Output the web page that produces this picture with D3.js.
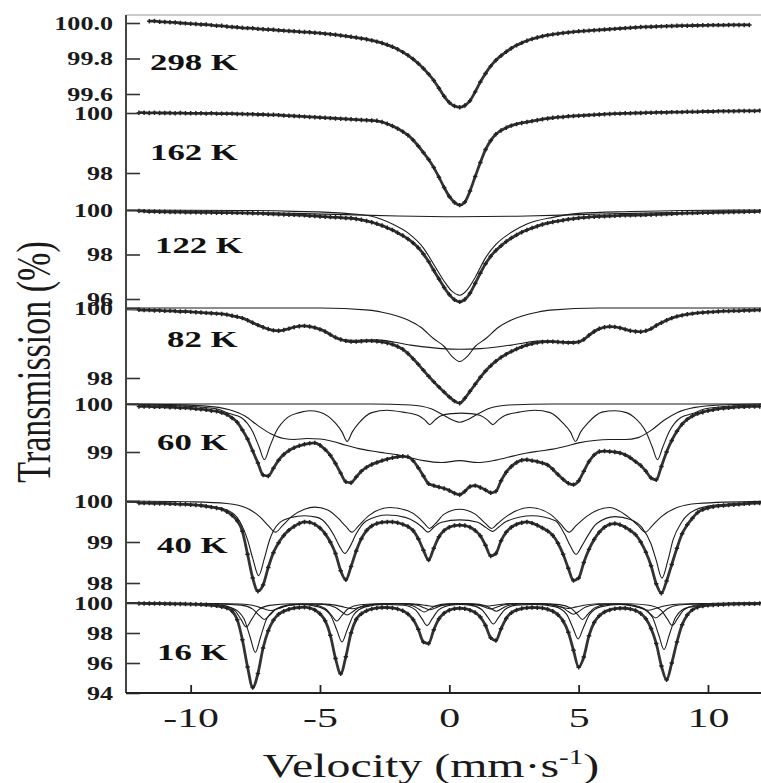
<!DOCTYPE html>
<html>
<head>
<meta charset="utf-8">
<script src="https://cdn.jsdelivr.net/npm/d3@7"></script>
<style>
  html, body { margin: 0; padding: 0; background: #fff; }
  svg { display: block; }
</style>
</head>
<body>
<svg id="chart" width="761" height="783"></svg>
<script>
// Mössbauer spectra of the sample recorded at seven temperatures.
// Velocity channels (mm/s), one every 0.2 mm/s from -12 to +12.
const velocity = d3.range(121).map(i => Math.round((-12 + i * 0.2) * 10) / 10);

// Measured transmission (%) per channel, one array per temperature.
const t298 = [
  null, null, 100.010, 100.011, 100.007, 100.006, 100.004, 100.003, 100.000, 99.998,
  99.996, 99.994, 99.992, 99.991, 99.988, 99.985, 99.984, 99.980, 99.978, 99.976,
  99.973, 99.971, 99.970, 99.967, 99.965, 99.963, 99.962, 99.959, 99.957, 99.955,
  99.953, 99.951, 99.949, 99.948, 99.945, 99.943, 99.940, 99.937, 99.934, 99.930,
  99.926, 99.922, 99.918, 99.913, 99.908, 99.902, 99.895, 99.887, 99.877, 99.866,
  99.852, 99.836, 99.818, 99.797, 99.772, 99.744, 99.712, 99.676, 99.632, 99.587,
  99.552, 99.532, 99.525, 99.535, 99.562, 99.612, 99.668, 99.716, 99.757, 99.790,
  99.816, 99.838, 99.858, 99.874, 99.888, 99.900, 99.910, 99.918, 99.925, 99.931,
  99.936, 99.940, 99.944, 99.947, 99.950, 99.953, 99.955, 99.957, 99.959, 99.961,
  99.963, 99.965, 99.967, 99.969, 99.971, 99.973, 99.975, 99.977, 99.978, 99.979,
  99.980, 99.981, 99.982, 99.983, 99.984, 99.985, 99.985, 99.986, 99.986, 99.987,
  99.987, 99.988, 99.988, 99.988, 99.989, 99.989, 99.989, 99.989, 99.989, null,
  null
];
const t162 = [
  100.01, 100.01, 100.00, 100.01, 100.00, 100.00, 100.00, 99.99, 100.00, 99.99,
  99.99, 99.99, 99.99, 99.98, 99.99, 99.98, 99.98, 99.98, 99.98, 99.97,
  99.97, 99.96, 99.96, 99.95, 99.95, 99.94, 99.94, 99.93, 99.92, 99.91,
  99.90, 99.89, 99.88, 99.87, 99.86, 99.85, 99.84, 99.83, 99.82, 99.81,
  99.80, 99.79, 99.78, 99.77, 99.76, 99.75, 99.74, 99.70, 99.64, 99.57,
  99.48, 99.38, 99.26, 99.10, 98.90, 98.68, 98.45, 98.18, 97.86, 97.52,
  97.22, 97.02, 96.93, 97.03, 97.40, 97.88, 98.35, 98.78, 99.08, 99.29,
  99.42, 99.51, 99.58, 99.63, 99.67, 99.70, 99.73, 99.76, 99.79, 99.82,
  99.84, 99.86, 99.87, 99.89, 99.90, 99.91, 99.92, 99.93, 99.94, 99.95,
  99.96, 99.97, 99.98, 99.98, 99.99, 99.99, 100.00, 100.00, 100.01, 100.01,
  100.02, 100.02, 100.02, 100.03, 100.03, 100.03, 100.04, 100.04, 100.04, 100.05,
  100.05, 100.05, 100.06, 100.06, 100.06, 100.06, 100.07, 100.07, 100.07, 100.07,
  100.08
];
const t122 = [
  99.96, 99.95, 99.93, 99.93, 99.92, 99.92, 99.91, 99.91, 99.91, 99.90,
  99.90, 99.90, 99.89, 99.89, 99.89, 99.88, 99.88, 99.88, 99.88, 99.87,
  99.87, 99.86, 99.85, 99.85, 99.84, 99.83, 99.82, 99.81, 99.80, 99.79,
  99.78, 99.77, 99.76, 99.74, 99.73, 99.71, 99.70, 99.68, 99.67, 99.66,
  99.64, 99.63, 99.60, 99.56, 99.51, 99.45, 99.38, 99.30, 99.20, 99.10,
  98.98, 98.85, 98.70, 98.52, 98.30, 98.02, 97.68, 97.28, 96.90, 96.52,
  96.20, 95.97, 95.87, 95.98, 96.26, 96.70, 97.16, 97.58, 97.92, 98.18,
  98.39, 98.58, 98.74, 98.88, 99.00, 99.10, 99.19, 99.27, 99.35, 99.41,
  99.46, 99.50, 99.54, 99.58, 99.61, 99.64, 99.66, 99.68, 99.70, 99.71,
  99.72, 99.73, 99.74, 99.75, 99.76, 99.76, 99.77, 99.77, 99.78, 99.79,
  99.80, 99.81, 99.82, 99.83, 99.84, 99.85, 99.86, 99.86, 99.87, 99.88,
  99.88, 99.89, 99.90, 99.90, 99.91, 99.91, 99.92, 99.92, 99.93, 99.93,
  99.94
];
const t82 = [
  99.95, 99.94, 99.94, 99.93, 99.93, 99.92, 99.92, 99.91, 99.90, 99.90,
  99.89, 99.88, 99.87, 99.86, 99.85, 99.84, 99.83, 99.81, 99.78, 99.75,
  99.71, 99.65, 99.58, 99.51, 99.45, 99.40, 99.36, 99.35, 99.37, 99.41,
  99.45, 99.48, 99.49, 99.47, 99.44, 99.39, 99.33, 99.24, 99.16, 99.10,
  99.06, 99.04, 99.04, 99.05, 99.06, 99.06, 99.05, 99.03, 99.00, 98.96,
  98.90, 98.82, 98.70, 98.55, 98.39, 98.22, 98.05, 97.89, 97.74, 97.60,
  97.46, 97.34, 97.28, 97.42, 97.62, 97.82, 98.02, 98.20, 98.35, 98.48,
  98.59, 98.68, 98.76, 98.83, 98.89, 98.94, 98.98, 99.01, 99.03, 99.04,
  99.04, 99.03, 99.02, 99.01, 99.01, 99.03, 99.10, 99.22, 99.33, 99.41,
  99.45, 99.47, 99.46, 99.43, 99.39, 99.35, 99.33, 99.32, 99.35, 99.41,
  99.50, 99.58, 99.65, 99.71, 99.76, 99.79, 99.82, 99.84, 99.86, 99.87,
  99.88, 99.89, 99.90, 99.91, 99.91, 99.92, 99.92, 99.93, 99.93, 99.94,
  99.94
];
const t60 = [
  99.95, 99.95, 99.95, 99.94, 99.94, 99.94, 99.93, 99.93, 99.92, 99.92,
  99.91, 99.90, 99.89, 99.88, 99.86, 99.85, 99.82, 99.78, 99.71, 99.62,
  99.46, 99.27, 99.02, 98.77, 98.52, 98.50, 98.66, 98.83, 98.95, 99.03,
  99.09, 99.13, 99.16, 99.18, 99.19, 99.14, 99.05, 98.93, 98.76, 98.56,
  98.38, 98.36, 98.48, 98.60, 98.68, 98.74, 98.78, 98.82, 98.85, 98.88,
  98.90, 98.91, 98.90, 98.82, 98.67, 98.50, 98.34, 98.30, 98.27, 98.24,
  98.20, 98.14, 98.11, 98.18, 98.28, 98.30, 98.26, 98.21, 98.15, 98.18,
  98.40, 98.58, 98.70, 98.78, 98.83, 98.84, 98.82, 98.80, 98.77, 98.73,
  98.64, 98.53, 98.43, 98.35, 98.32, 98.40, 98.60, 98.80, 98.94, 99.01,
  99.02, 99.01, 99.00, 98.98, 98.94, 98.88, 98.80, 98.72, 98.60, 98.46,
  98.42, 98.70, 99.00, 99.24, 99.43, 99.58, 99.68, 99.75, 99.80, 99.83,
  99.86, 99.88, 99.90, 99.91, 99.92, 99.93, 99.94, 99.94, 99.95, 99.95,
  99.95
];
const t40 = [
  99.95, 99.95, 99.95, 99.94, 99.94, 99.94, 99.93, 99.93, 99.92, 99.92,
  99.91, 99.90, 99.89, 99.87, 99.85, 99.83, 99.80, 99.74, 99.65, 99.52,
  99.26, 98.70, 98.12, 97.80, 97.95, 98.38, 98.74, 98.98, 99.16, 99.29,
  99.38, 99.45, 99.49, 99.48, 99.43, 99.34, 99.20, 99.00, 98.72, 98.30,
  98.08, 98.40, 98.78, 99.08, 99.28, 99.39, 99.45, 99.48, 99.49, 99.49,
  99.47, 99.43, 99.38, 99.28, 99.08, 98.80, 98.56, 98.85, 99.13, 99.28,
  99.36, 99.40, 99.41, 99.40, 99.36, 99.28, 99.15, 98.92, 98.66, 98.72,
  99.03, 99.24, 99.36, 99.43, 99.47, 99.49, 99.46, 99.41, 99.34, 99.27,
  99.16, 98.97, 98.70, 98.36, 98.06, 98.12, 98.50, 98.82, 99.06, 99.24,
  99.36, 99.43, 99.45, 99.42, 99.36, 99.28, 99.18, 99.00, 98.75, 98.42,
  97.98, 97.75, 98.05, 98.45, 98.85, 99.20, 99.42, 99.58, 99.72, 99.79,
  99.83, 99.86, 99.88, 99.89, 99.90, 99.91, 99.92, 99.93, 99.94, 99.95,
  99.95
];
const t16 = [
  99.97, 99.97, 99.96, 99.96, 99.96, 99.95, 99.95, 99.94, 99.94, 99.93,
  99.92, 99.91, 99.90, 99.88, 99.85, 99.81, 99.75, 99.66, 99.47, 98.89,
  97.55, 95.73, 94.36, 95.30, 97.00, 98.15, 98.85, 99.25, 99.45, 99.58,
  99.66, 99.70, 99.72, 99.66, 99.54, 99.28, 98.82, 97.85, 96.30, 95.29,
  96.42, 98.00, 98.90, 99.28, 99.48, 99.60, 99.66, 99.70, 99.70, 99.67,
  99.60, 99.48, 99.27, 98.90, 98.25, 97.40, 97.30, 98.22, 98.95, 99.32,
  99.52, 99.62, 99.65, 99.62, 99.52, 99.36, 99.06, 98.50, 97.68, 97.50,
  98.28, 98.97, 99.35, 99.53, 99.63, 99.68, 99.70, 99.69, 99.66, 99.58,
  99.45, 99.22, 98.80, 98.05, 96.85, 95.72, 96.40, 97.82, 98.70, 99.15,
  99.40, 99.54, 99.62, 99.65, 99.65, 99.60, 99.50, 99.30, 98.95, 98.30,
  97.30, 95.80, 94.88, 96.00, 97.40, 98.55, 99.20, 99.55, 99.72, 99.80,
  99.85, 99.87, 99.89, 99.90, 99.92, 99.93, 99.94, 99.94, 99.95, 99.95,
  99.96
];

// Fitted sub-spectra, as [velocity, transmission] pairs.
const fit122Broad = [[-12.5, 99.97], [-10, 99.93], [-8, 99.89], [-6, 99.85], [-4, 99.79], [-2, 99.73],
  [0.4, 99.70], [3, 99.73], [5, 99.79], [7, 99.85], [9, 99.89], [12.05, 99.93]];
const fit122Main = [[-12.5, 100], [-8, 99.98], [-6, 99.94], [-4, 99.85], [-3, 99.72], [-2.2, 99.37],
  [-1.6, 98.97], [-1.0, 98.29], [-0.6, 97.55], [-0.2, 96.8], [0.1, 96.35], [0.4, 96.17], [0.7, 96.42],
  [1.0, 96.97], [1.4, 97.85], [1.8, 98.45], [2.4, 99.0], [3.0, 99.37], [4.0, 99.67], [5.0, 99.85],
  [7, 99.93], [9, 99.98], [12.05, 100]];

const fit82Narrow = [[-12.5, 100], [-5, 100], [-3.1, 99.94], [-2.6, 99.88], [-1.6, 99.66], [-1.1, 99.45],
  [-0.6, 99.12], [-0.2, 98.9], [0.1, 98.62], [0.4, 98.47], [0.7, 98.62], [1.0, 98.9], [1.4, 99.12],
  [1.9, 99.45], [2.4, 99.66], [3.4, 99.88], [3.9, 99.94], [5.8, 100], [12.05, 100]];
const fit82Broad = [[-12.5, 99.95], [-10, 99.89], [-8.6, 99.81], [-8, 99.71], [-7.4, 99.51], [-6.8, 99.36],
  [-6.6, 99.35], [-6.2, 99.41], [-5.6, 99.49], [-5.0, 99.39], [-4.4, 99.16], [-3.8, 99.08], [-2.8, 99.09],
  [-1.5, 98.94], [-0.3, 98.84], [0.4, 98.82], [1.2, 98.84], [2.4, 98.94], [3.6, 99.06], [4.6, 99.04],
  [5.0, 99.05], [5.4, 99.22], [6.2, 99.47], [7.4, 99.32], [8.0, 99.5], [8.6, 99.71], [9.4, 99.84],
  [10.6, 99.91], [12.05, 99.94]];

const fit60Sextet = [[-12.5, 99.99], [-11, 99.97], [-10, 99.95], [-9.0, 99.9], [-8.5, 99.8], [-8.05, 99.72],
  [-7.6, 99.42], [-7.35, 99.1], [-7.15, 98.84], [-6.95, 99.1], [-6.7, 99.42], [-6.25, 99.72], [-5.8, 99.82],
  [-5.4, 99.86], [-5.0, 99.83], [-4.4, 99.6], [-4.15, 99.42], [-3.95, 99.22], [-3.75, 99.42], [-3.5, 99.6],
  [-3.0, 99.82], [-2.4, 99.87], [-1.8, 99.83], [-1.2, 99.76], [-0.95, 99.67], [-0.76, 99.57], [-0.55, 99.67],
  [-0.3, 99.76], [0.1, 99.8], [0.46, 99.81], [0.82, 99.8], [1.2, 99.76], [1.47, 99.67], [1.68, 99.57],
  [1.9, 99.67], [2.15, 99.76], [2.7, 99.83], [3.3, 99.87], [3.9, 99.82], [4.4, 99.6], [4.68, 99.42],
  [4.88, 99.22], [5.08, 99.42], [5.35, 99.6], [5.9, 99.83], [6.4, 99.86], [6.85, 99.82], [7.15, 99.72],
  [7.6, 99.42], [7.85, 99.1], [8.05, 98.84], [8.25, 99.1], [8.5, 99.42], [8.95, 99.72], [9.4, 99.8],
  [9.9, 99.9], [11, 99.96], [12.05, 99.98]];
const fit60Broad = [[-12.5, 100], [-11, 99.99], [-9.5, 99.96], [-8.5, 99.88], [-7.9, 99.75], [-7.4, 99.55],
  [-6.9, 99.38], [-6.4, 99.28], [-6.0, 99.26], [-5.5, 99.28], [-5.0, 99.27], [-4.5, 99.22], [-4.0, 99.14],
  [-3.5, 99.07], [-3.0, 99.02], [-2.5, 98.98], [-2.0, 98.94], [-1.5, 98.88], [-1.0, 98.82], [-0.3, 98.78],
  [0.4, 98.82], [1.1, 98.78], [1.8, 98.83], [2.5, 98.92], [3.0, 98.98], [3.5, 99.02], [4.0, 99.06],
  [4.5, 99.12], [5.0, 99.19], [5.6, 99.24], [6.2, 99.26], [6.8, 99.26], [7.3, 99.3], [7.8, 99.45],
  [8.3, 99.66], [8.8, 99.82], [9.5, 99.93], [10.5, 99.98], [12.05, 100]];
const fit60Singlet = [[-12.5, 100], [-3, 100], [-1.5, 99.98], [-0.7, 99.9], [-0.2, 99.76], [0.15, 99.66],
  [0.4, 99.62], [0.65, 99.66], [1.0, 99.76], [1.5, 99.9], [2.3, 99.98], [4, 100], [12.05, 100]];

const fit40Sharp = [[-12.5, 99.97], [-10.5, 99.94], [-9.3, 99.88], [-8.6, 99.78], [-8.1, 99.5], [-7.8, 99.05],
  [-7.6, 98.6], [-7.37, 98.18], [-7.15, 98.6], [-6.95, 99.05], [-6.6, 99.45], [-6.1, 99.6], [-5.6, 99.64],
  [-5.1, 99.6], [-4.7, 99.4], [-4.45, 99.15], [-4.25, 98.9], [-4.04, 98.72], [-3.83, 98.9], [-3.6, 99.2],
  [-3.2, 99.52], [-2.4, 99.66], [-1.7, 99.6], [-1.3, 99.48], [-1.05, 99.36], [-0.82, 99.24], [-0.6, 99.36],
  [-0.3, 99.48], [0.4, 99.54], [1.1, 99.48], [1.4, 99.36], [1.68, 99.26], [1.9, 99.36], [2.2, 99.5],
  [3.2, 99.64], [4.1, 99.52], [4.45, 99.2], [4.68, 98.9], [4.9, 98.7], [5.12, 98.9], [5.35, 99.15],
  [5.7, 99.45], [6.4, 99.62], [7.0, 99.55], [7.45, 99.35], [7.8, 98.95], [8.0, 98.55], [8.22, 98.12],
  [8.45, 98.55], [8.65, 99.05], [9.0, 99.5], [9.5, 99.78], [10.3, 99.9], [12.05, 99.96]];
const fit40Broad = [[-12.5, 100], [-10, 99.98], [-8.6, 99.94], [-7.8, 99.82], [-7.3, 99.6], [-7.0, 99.4],
  [-6.72, 99.24], [-6.45, 99.4], [-6.1, 99.62], [-5.6, 99.8], [-5.2, 99.85], [-4.7, 99.78], [-4.3, 99.58],
  [-4.0, 99.38], [-3.77, 99.24], [-3.5, 99.4], [-3.1, 99.65], [-2.3, 99.84], [-1.6, 99.76], [-1.2, 99.6],
  [-0.95, 99.44], [-0.77, 99.33], [-0.55, 99.44], [-0.2, 99.68], [0.4, 99.8], [1.0, 99.68], [1.38, 99.46],
  [1.63, 99.33], [1.85, 99.44], [2.2, 99.62], [3.1, 99.84], [3.9, 99.68], [4.3, 99.44], [4.63, 99.24],
  [4.9, 99.4], [5.3, 99.62], [6.2, 99.84], [6.9, 99.62], [7.3, 99.4], [7.58, 99.24], [7.85, 99.4],
  [8.2, 99.62], [8.8, 99.84], [9.6, 99.94], [12.05, 99.99]];

const fit16A = [[-12.5, 99.99], [-9.5, 99.95], [-8.4, 99.67], [-7.95, 98.98], [-7.7, 97.72], [-7.5, 96.7],
  [-7.3, 97.72], [-7.05, 98.98], [-6.6, 99.67], [-5.8, 99.9], [-5.05, 99.74], [-4.6, 99.2], [-4.35, 98.2],
  [-4.15, 97.4], [-3.95, 98.2], [-3.7, 99.2], [-3.25, 99.74], [-2.5, 99.9], [-1.76, 99.85], [-1.31, 99.54],
  [-1.06, 98.96], [-0.86, 98.5], [-0.66, 98.96], [-0.41, 99.54], [0.04, 99.85], [0.42, 99.9], [0.8, 99.86],
  [1.25, 99.57], [1.5, 99.03], [1.7, 98.6], [1.9, 99.03], [2.15, 99.57], [2.6, 99.86], [3.3, 99.9],
  [4.08, 99.76], [4.53, 99.26], [4.78, 98.34], [4.98, 97.6], [5.18, 98.34], [5.43, 99.26], [5.88, 99.76],
  [6.6, 99.9], [7.4, 99.69], [7.85, 99.05], [8.1, 97.85], [8.3, 96.9], [8.5, 97.85], [8.75, 99.05],
  [9.2, 99.69], [10.5, 99.95], [12.05, 99.99]];
const fit16B = [[-12.5, 99.99], [-10, 99.97], [-8.75, 99.84], [-8.3, 99.51], [-8.05, 98.89], [-7.85, 98.4],
  [-7.65, 98.89], [-7.4, 99.51], [-6.95, 99.84], [-6.1, 99.95], [-5.25, 99.88], [-4.8, 99.63], [-4.55, 99.17],
  [-4.35, 98.8], [-4.15, 99.17], [-3.9, 99.63], [-3.45, 99.88], [-2.6, 99.95], [-1.87, 99.94], [-1.42, 99.82],
  [-1.17, 99.58], [-0.97, 99.4], [-0.77, 99.58], [-0.52, 99.82], [-0.07, 99.94], [0.42, 99.96], [0.92, 99.94],
  [1.37, 99.83], [1.62, 99.62], [1.82, 99.45], [2.02, 99.62], [2.27, 99.83], [2.72, 99.94], [3.5, 99.96],
  [4.25, 99.89], [4.7, 99.66], [4.95, 99.24], [5.15, 98.9], [5.35, 99.24], [5.6, 99.66], [6.05, 99.89],
  [6.9, 99.95], [7.72, 99.85], [8.17, 99.54], [8.42, 98.96], [8.62, 98.5], [8.82, 98.96], [9.07, 99.54],
  [9.52, 99.85], [10.5, 99.96], [12.05, 99.99]];
const fit16C = [[-12.5, 99.99], [-10, 99.97], [-8.05, 99.86], [-7.6, 99.59], [-7.35, 99.17], [-7.15, 98.9],
  [-6.95, 99.17], [-6.7, 99.59], [-6.25, 99.86], [-5.5, 99.93], [-4.85, 99.9], [-4.4, 99.7], [-4.15, 99.4],
  [-3.95, 99.2], [-3.75, 99.4], [-3.5, 99.7], [-3.05, 99.9], [-2.2, 99.95], [-1.65, 99.94], [-1.2, 99.83],
  [-0.95, 99.66], [-0.75, 99.55], [-0.55, 99.66], [-0.3, 99.83], [0.15, 99.93], [0.42, 99.95], [0.7, 99.94],
  [1.15, 99.85], [1.4, 99.7], [1.6, 99.6], [1.8, 99.7], [2.05, 99.85], [2.5, 99.95], [3.3, 99.96],
  [3.9, 99.9], [4.35, 99.72], [4.6, 99.43], [4.8, 99.25], [5.0, 99.43], [5.25, 99.72], [5.7, 99.9],
  [6.4, 99.94], [7.08, 99.87], [7.53, 99.62], [7.78, 99.25], [7.98, 99.0], [8.18, 99.25], [8.43, 99.62],
  [8.88, 99.87], [10, 99.96], [12.05, 99.99]];
const fit16D = [[-12.5, 99.99], [-9, 99.97], [-8.1, 99.93], [-7.5, 99.8], [-7.2, 99.63], [-6.9, 99.5],
  [-6.6, 99.63], [-6.3, 99.8], [-5.7, 99.93], [-5.3, 99.95], [-4.95, 99.94], [-4.35, 99.84], [-4.05, 99.72],
  [-3.75, 99.62], [-3.45, 99.72], [-3.15, 99.84], [-2.55, 99.94], [-1.8, 99.97], [-1.2, 99.91], [-0.9, 99.84],
  [-0.6, 99.78], [-0.3, 99.84], [0.0, 99.91], [0.4, 99.95], [0.85, 99.92], [1.15, 99.85], [1.45, 99.8],
  [1.75, 99.85], [2.05, 99.92], [2.65, 99.97], [3.4, 99.95], [4.0, 99.85], [4.3, 99.74], [4.6, 99.64],
  [4.9, 99.74], [5.2, 99.85], [5.8, 99.95], [6.5, 99.93], [7.1, 99.8], [7.4, 99.65], [7.7, 99.52],
  [8.0, 99.65], [8.3, 99.8], [8.9, 99.93], [10, 99.97], [12.05, 99.99]];

// Temperature labels and transmission tick values
const temperatures = ["298 K", "162 K", "122 K", "82 K", "60 K", "40 K", "16 K"];
const ticks298 = [100.0, 99.8, 99.6];
const ticks162 = [100, 98];
const ticks122 = [100, 98, 96];
const ticks82 = [100, 98];
const ticks60 = [100, 99];
const ticks40 = [100, 99, 98];
const ticks16 = [100, 98, 96, 94];
const velocityTicks = [-10, -5, 0, 5, 10];

const spectra = [
  { data: t298, ticks: ticks298, fmt: ".1f", fits: [] },
  { data: t162, ticks: ticks162, fmt: "d", fits: [] },
  { data: t122, ticks: ticks122, fmt: "d", fits: [fit122Broad, fit122Main] },
  { data: t82, ticks: ticks82, fmt: "d", fits: [fit82Narrow, fit82Broad] },
  { data: t60, ticks: ticks60, fmt: "d", fits: [fit60Singlet, fit60Sextet, fit60Broad] },
  { data: t40, ticks: ticks40, fmt: "d", fits: [fit40Broad, fit40Sharp] },
  { data: t16, ticks: ticks16, fmt: "d", fits: [fit16D, fit16C, fit16B, fit16A] }
];

// ---- layout ----
const W = 761, H = 783;
const plotLeft = 126, plotRight = 761, plotTop = 15, plotBottom = 693;
const SX = 1.45;                 // horizontal stretch of the lettering
const serif = "'Liberation Serif', 'Times New Roman', Times, serif";

// Vertical placement of each stacked spectrum: two reference values and their pixel rows
const frames = [
  { ref: [99.6, 100.0], px: [94, 23],  label: [150, 70] },
  { ref: [98, 100],     px: [173, 113], label: [150, 160] },
  { ref: [96, 100],     px: [299, 210], label: [155, 253] },
  { ref: [98, 100],     px: [378, 308], label: [167, 347] },
  { ref: [99, 100],     px: [452, 404], label: [157, 450] },
  { ref: [98, 100],     px: [583, 501], label: [157, 553] },
  { ref: [94, 100],     px: [693, 603], label: [157, 660] }
];

const svg = d3.select("#chart").attr("viewBox", `0 0 ${W} ${H}`);
svg.append("rect").attr("width", W).attr("height", H).attr("fill", "#fff");

svg.append("defs").append("clipPath").attr("id", "plot-clip")
  .append("rect").attr("x", plotLeft).attr("y", 0).attr("width", plotRight - plotLeft + 1).attr("height", H);

const x = d3.scaleLinear().domain([-12.5, 12.05]).range([plotLeft, plotRight]);

// frame
svg.append("line").attr("x1", plotLeft).attr("x2", plotRight).attr("y1", plotTop).attr("y2", plotTop)
  .attr("stroke", "#9a9a9a").attr("stroke-width", 1);

const plot = svg.append("g").attr("clip-path", "url(#plot-clip)");
const marker = d3.symbol().type(d3.symbolCross).size(11);

spectra.forEach((s, i) => {
  const f = frames[i];
  const y = d3.scaleLinear().domain(f.ref).range(f.px);

  // fitted components
  const fitLine = d3.line().x(d => x(d[0])).y(d => y(d[1])).curve(d3.curveMonotoneX);
  s.fits.forEach(comp => {
    plot.append("path").datum(comp).attr("d", fitLine)
      .attr("fill", "none").attr("stroke", "#1c1c1c").attr("stroke-width", 1.1);
  });

  // measured points and the overall fit through them
  const pts = velocity.map((v, k) => [v, s.data[k]]).filter(d => d[1] != null);
  const dataLine = d3.line().x(d => x(d[0])).y(d => y(d[1])).curve(d3.curveMonotoneX);
  plot.append("path").datum(pts).attr("d", dataLine)
    .attr("fill", "none").attr("stroke", "#333").attr("stroke-width", 2.8);
  plot.append("g").selectAll("path").data(pts).join("path")
    .attr("d", marker)
    .attr("transform", d => `translate(${x(d[0])},${y(d[1])})`)
    .attr("fill", "#222");

  // transmission axis for this spectrum
  const axis = d3.axisLeft(y).tickValues(s.ticks).tickSize(-14).tickSizeOuter(0)
    .tickPadding(13).tickFormat(d3.format(s.fmt));
  const g = svg.append("g").attr("transform", `translate(${plotLeft},0)`).call(axis);
  g.select(".domain").remove();
  g.selectAll(".tick line").attr("stroke", "#333").attr("stroke-width", 1.6);
  g.selectAll(".tick text")
    .attr("x", -13 / SX).attr("dy", "0.35em")
    .attr("transform", `scale(${SX},1)`)
    .attr("fill", "#1a1a1a")
    .style("font-family", serif).style("font-size", "18px").style("font-weight", "bold");

  // temperature label
  svg.append("text")
    .attr("transform", `translate(${f.label[0]},${f.label[1]}) scale(${SX},1)`)
    .style("font-family", serif).style("font-size", "24px").style("font-weight", "bold")
    .attr("fill", "#111")
    .text(temperatures[i]);
});

// axis lines
svg.append("line").attr("x1", plotLeft).attr("x2", plotLeft).attr("y1", plotTop).attr("y2", plotBottom)
  .attr("stroke", "#444").attr("stroke-width", 2);

const xAxis = d3.axisBottom(x).tickValues(velocityTicks).tickSize(-8).tickSizeOuter(0)
  .tickFormat(d => d < 0 ? "-" + Math.abs(d) : String(d));
const gx = svg.append("g").attr("transform", `translate(0,${plotBottom})`).call(xAxis);
gx.select(".domain").remove();
gx.selectAll(".tick line").attr("stroke", "#222").attr("stroke-width", 1.8);
gx.selectAll(".tick text")
  .attr("y", 34).attr("dy", null)
  .attr("transform", `scale(${SX + 0.1},1)`)
  .attr("fill", "#1a1a1a")
  .style("font-family", serif).style("font-size", "27px");

svg.append("line").attr("x1", plotLeft).attr("x2", plotRight).attr("y1", plotBottom).attr("y2", plotBottom)
  .attr("stroke", "#222").attr("stroke-width", 2);

// axis titles
const xt = svg.append("text")
  .attr("transform", `translate(431,777) scale(${SX},1)`)
  .attr("text-anchor", "middle")
  .style("font-family", serif).style("font-size", "33px")
  .attr("fill", "#1a1a1a");
xt.append("tspan").text("Velocity (mm\u00b7s");
xt.append("tspan").attr("dy", -13).style("font-size", "20px").text("-1");
xt.append("tspan").attr("dy", 13).text(")");

svg.append("text")
  .attr("transform", `translate(50,362) scale(${SX},1) rotate(-90)`)
  .attr("text-anchor", "middle")
  .style("font-family", serif).style("font-size", "34px")
  .attr("fill", "#1a1a1a")
  .text("Transmission (%)");
</script>
</body>
</html>
